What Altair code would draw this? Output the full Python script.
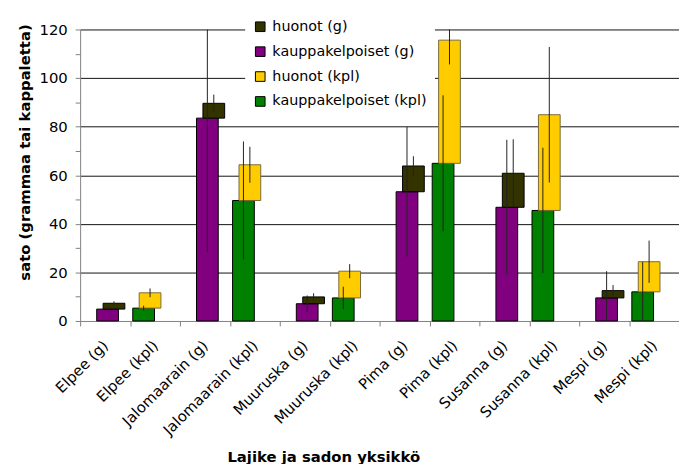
import altair as alt
import pandas as pd

cultivars = ["Elpee", "Jalomaarain", "Muuruska", "Pima", "Susanna", "Mespi"]

kauppa_g = [4.9, 83.5, 7.1, 53.2, 46.8, 9.5]
huonot_g = [2.4, 6.1, 2.8, 10.6, 14.0, 3.0]
kauppa_kpl = [5.3, 49.6, 9.5, 64.9, 45.5, 12.0]
huonot_kpl = [6.3, 14.7, 11.0, 50.7, 39.4, 12.4]

err_kauppa_g = [0.8, 55.0, 3.4, 26.7, 27.8, 11.0]
err_huonot_g = [0.8, 3.6, 1.5, 4.0, 14.0, 2.3]
err_kauppa_kpl = [1.0, 24.3, 4.6, 28.0, 25.8, 12.3]
err_huonot_kpl = [1.8, 7.4, 2.9, 10.0, 27.9, 8.7]

series_names = ["huonot (g)", "kauppakelpoiset (g)", "huonot (kpl)", "kauppakelpoiset (kpl)"]
series_colors = ["#333300", "#800080", "#FFCC00", "#008000"]
series_strokes = ["#000000", "#000000", "#7a6a3a", "#000000"]
series_offsets = [9, 2.5, -5, -11.5]

labels = []
rows = []
for i, c in enumerate(cultivars):
    lg = f"{c} (g)"
    lk = f"{c} (kpl)"
    labels += [lg, lk]
    rows.append(dict(label=lg, serie="kauppakelpoiset (g)", base=0.0, top=kauppa_g[i], err=err_kauppa_g[i]))
    rows.append(dict(label=lg, serie="huonot (g)", base=kauppa_g[i], top=kauppa_g[i] + huonot_g[i], err=err_huonot_g[i]))
    rows.append(dict(label=lk, serie="kauppakelpoiset (kpl)", base=0.0, top=kauppa_kpl[i], err=err_kauppa_kpl[i]))
    rows.append(dict(label=lk, serie="huonot (kpl)", base=kauppa_kpl[i], top=kauppa_kpl[i] + huonot_kpl[i], err=err_huonot_kpl[i]))

df = pd.DataFrame(rows)
df["lo"] = df["top"] - df["err"]
df["hi"] = df["top"] + df["err"]

FONT = "DejaVu Sans"

x_axis = alt.Axis(
    title="Lajike ja sadon yksikkö",
    labelAngle=315, labelAlign="right", labelBaseline="middle", labelPadding=17,
    labelFontSize=15, labelFont=FONT, labelColor="black",
    tickBand="extent", tickSize=5, tickColor="#808080", domainColor="#808080",
    titleFont=FONT, titleFontSize=15, titleFontWeight="bold", titleColor="black",
    titleX=246, titleY=142, titleBaseline="alphabetic", titleAlign="center",
    grid=False,
)

y_axis = alt.Axis(
    title="sato (grammaa tai kappaletta)",
    values=list(range(0, 121, 10)),
    labelExpr="datum.value % 20 == 0 ? datum.label : ''",
    labelFontSize=15, labelFont=FONT, labelColor="black", labelPadding=8,
    tickSize=5, tickColor="#808080", domainColor="#808080",
    grid=True, gridColor="#111111",
    gridOpacity={"condition": {"test": "datum.value % 20 == 0 && datum.value > 0", "value": 1}, "value": 0},
    titleFont=FONT, titleFontSize=15, titleFontWeight="bold", titleColor="black",
    titleX=-56, titleY=124, titleAngle=270, titleBaseline="middle", titleAlign="center",
)


def xenc():
    return alt.X("label:N", sort=labels, scale=alt.Scale(paddingInner=0, paddingOuter=0), axis=x_axis)


def yenc(field):
    return alt.Y(f"{field}:Q", stack=None, scale=alt.Scale(domain=[0, 120], nice=False), axis=y_axis)


color = alt.Color(
    "serie:N",
    scale=alt.Scale(domain=series_names, range=series_colors),
    legend=alt.Legend(
        title=None, orient="none", legendX=167, legendY=-18,
        fillColor="white", padding=8, rowPadding=9.2,
        symbolType="square", symbolSize=95, symbolStrokeColor="black", symbolStrokeWidth=1,
        symbolOpacity=1,
        labelFont=FONT, labelFontSize=14.5, labelColor="black", labelOffset=5,
    ),
)

draw_order = ["kauppakelpoiset (g)", "huonot (g)", "kauppakelpoiset (kpl)", "huonot (kpl)"]
layers = []
for s in draw_order:
    k = series_names.index(s)
    layers.append(
        alt.Chart(df).transform_filter(alt.datum.serie == s)
        .mark_bar(width=22, xOffset=series_offsets[k], stroke=series_strokes[k], strokeWidth=1, opacity=1)
        .encode(x=xenc(), y=yenc("base"), y2="top:Q", color=color)
    )
for s in draw_order:
    k = series_names.index(s)
    layers.append(
        alt.Chart(df).transform_filter(alt.datum.serie == s)
        .mark_rule(xOffset=series_offsets[k], color="#222222", strokeWidth=1, clip=True)
        .encode(x=xenc(), y=yenc("lo"), y2="hi:Q")
    )

chart = alt.layer(*layers).properties(
    width=606, height=295,
    autosize=alt.AutoSizeParams(type="none"),
    padding={"left": 73, "top": 19, "right": 0, "bottom": 142},
    background="white",
).configure_view(stroke=None)

chart.save("out.html", embed_options={"renderer": "svg", "actions": False})
